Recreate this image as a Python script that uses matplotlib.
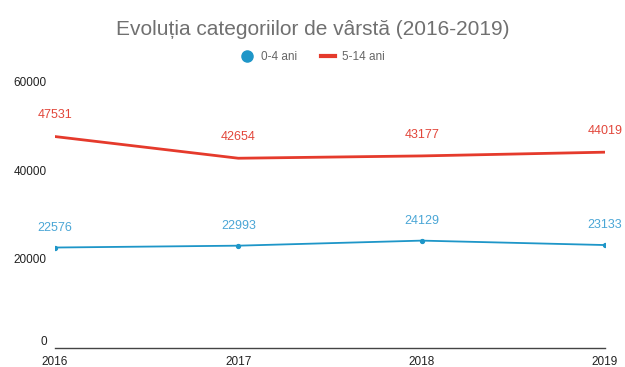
import matplotlib
matplotlib.use("Agg")
import matplotlib.pyplot as plt
from matplotlib.lines import Line2D

years = [2016, 2017, 2018, 2019]
ani_0_4 = [22576, 22993, 24129, 23133]
ani_5_14 = [47531, 42654, 43177, 44019]
y_ticks = [0, 20000, 40000, 60000]
series_names = ["0-4 ani", "5-14 ani"]
title = "Evoluția categoriilor de vârstă (2016-2019)"

blue = "#1e96c8"
red = "#e53a2c"
blue_txt = "#4aa6d6"
red_txt = "#e2463a"

plt.rcParams["font.family"] = ["Liberation Sans", "DejaVu Sans"]

fig = plt.figure(figsize=(6.25, 3.67), dpi=100)
ax = fig.add_axes([0.088, 0.052, 0.88, 0.727])

ax.plot(years, ani_5_14, color=red, lw=2.0, solid_capstyle="round", zorder=3)
ax.plot(years, ani_0_4, color=blue, lw=1.3, marker="o", ms=2.8, zorder=3)

for x, v in zip(years, ani_5_14):
    ax.annotate(str(v), (x, v), xytext=(0, 11), textcoords="offset points",
                ha="center", va="bottom", color=red_txt, fontsize=9)
for x, v in zip(years, ani_0_4):
    ax.annotate(str(v), (x, v), xytext=(0, 10), textcoords="offset points",
                ha="center", va="bottom", color=blue_txt, fontsize=9)

ax.set_xlim(2016, 2019)
ax.set_ylim(0, 60000)
ax.set_xticks(years)
ax.set_xticklabels([str(y) for y in years])
ax.set_yticks(y_ticks)
ax.set_yticklabels([str(t) for t in y_ticks])
ax.tick_params(axis="both", length=0, labelsize=8.5, colors="#222222")
ax.tick_params(axis="x", pad=6)
ax.tick_params(axis="y", pad=6)
ax.get_yticklabels()[0].set_va("bottom")

for s in ["top", "right", "left"]:
    ax.spines[s].set_visible(False)
ax.spines["bottom"].set_color("#444444")
ax.spines["bottom"].set_linewidth(1.0)

fig.text(0.5, 0.92, title, ha="center", va="center", fontsize=15,
         color="#707070")

handles = [
    Line2D([], [], color=blue, marker="o", ms=8, lw=0),
    Line2D([], [], color=red, lw=3),
]
fig.legend(handles, series_names, loc="center", bbox_to_anchor=(0.5, 0.845),
           ncol=2, frameon=False, fontsize=8.5, labelcolor="#666666",
           handlelength=1.2, columnspacing=2.0, handletextpad=0.6)

fig.savefig("out.png", dpi=100, facecolor="white")
